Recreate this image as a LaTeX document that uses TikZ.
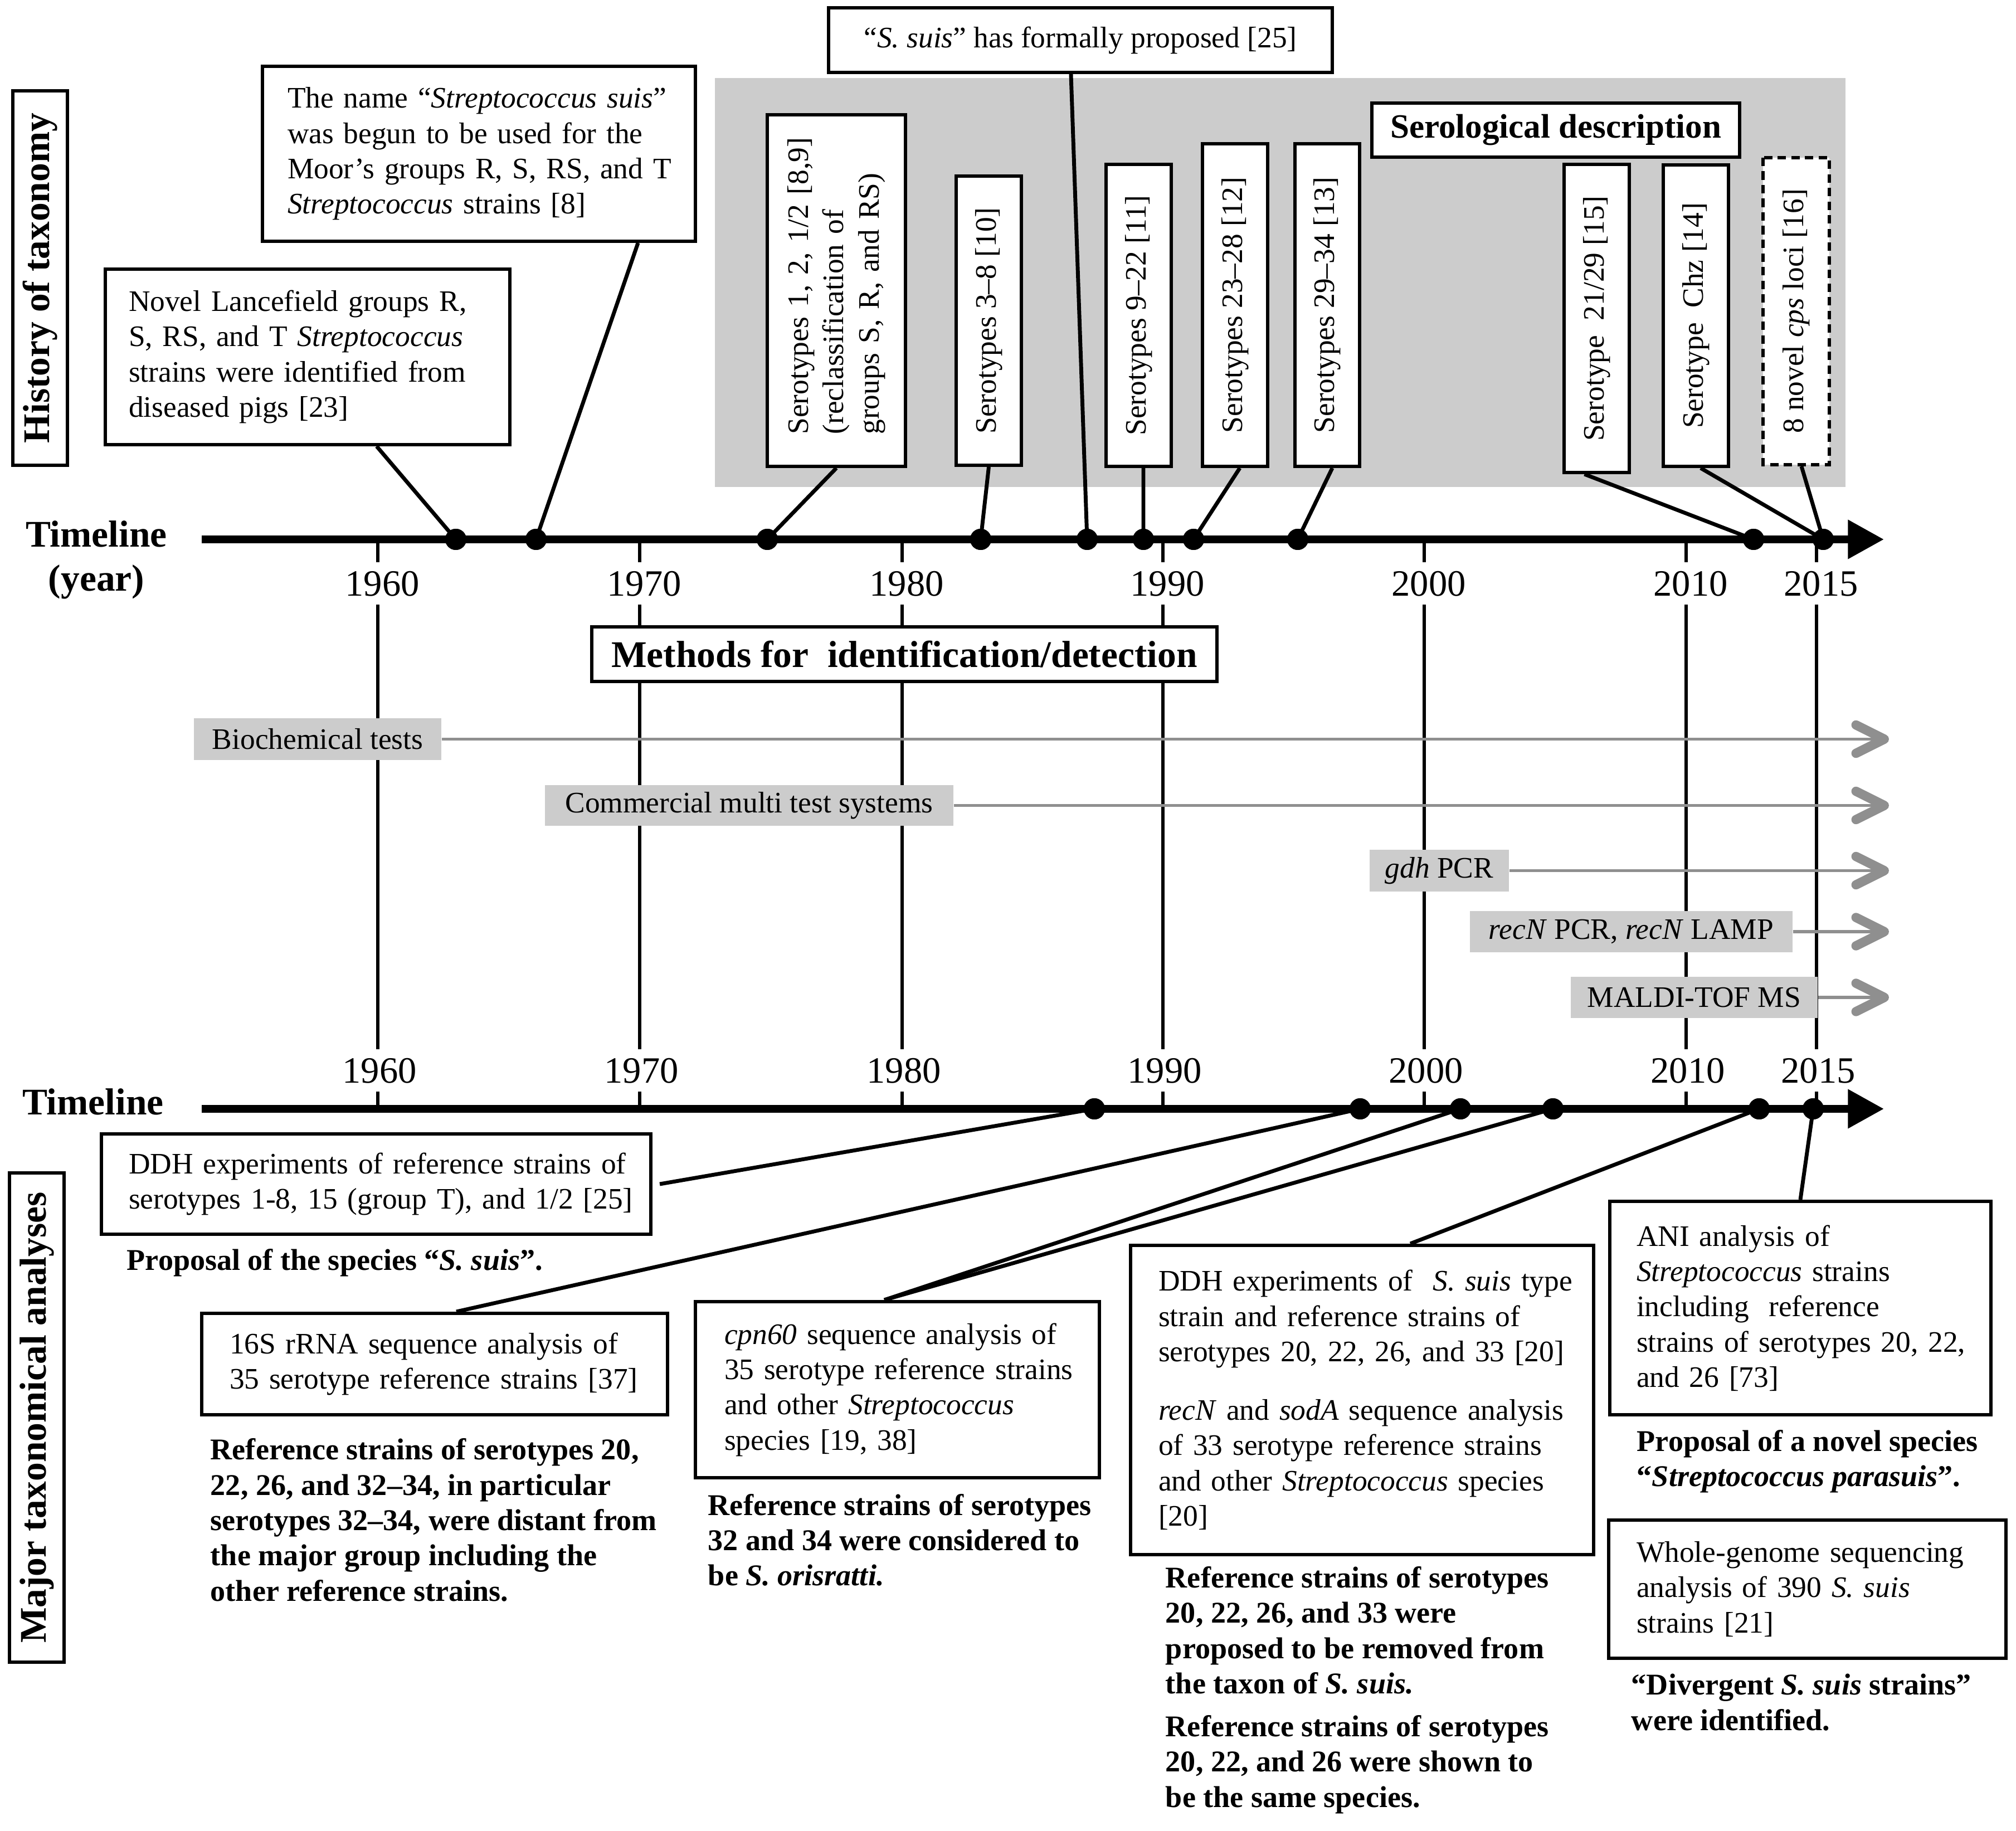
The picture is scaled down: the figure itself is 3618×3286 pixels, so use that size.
\documentclass[tikz,border=0pt]{standalone}
\usepackage{fontspec}
\setmainfont{Liberation Serif}
\usetikzlibrary{arrows.meta,calc}
\def\U{0.2163pt}
\newlength\UL \setlength\UL{0.2163pt}
\definecolor{graybox}{RGB}{204,204,204}
\definecolor{grayarr}{RGB}{143,143,143}
\newcommand\mybody{\fontsize{11.55pt}{13.7pt}\selectfont}
\newcommand\mybold{\fontsize{11.7pt}{13.7pt}\selectfont\bfseries}
\newcommand\myyear{\fontsize{14.4pt}{16pt}\selectfont}
\newcommand\myhead{\fontsize{14.6pt}{17pt}\selectfont\bfseries}
\newcommand\mysero{\fontsize{13.2pt}{15pt}\selectfont\bfseries}
\newcommand\mline[1]{\mbox{#1}}
\begin{document}
\begin{tikzpicture}[x=0.2163pt, y=-0.2163pt,
  bx/.style={draw, line width=1.3pt, fill=white, inner sep=0pt, font=\mybody},
  grl/.style={fill=graybox, inner sep=0pt, font=\mybody},
  dot/.style={circle, fill=black, inner sep=0pt, minimum size=38*\U},
  conn/.style={line width=1.5pt},
  yl/.style={line width=1.2pt},
  yrl/.style={fill=white, font=\myyear, inner xsep=1pt, inner ysep=3.4pt, text height=9.8pt, text depth=0pt},
  note/.style={font=\mybold, align=left, inner sep=0pt, anchor=west},
  garr/.style={draw=grayarr, line width=1.1pt, -{Straight Barb[length=11pt,width=11pt,line width=3.6pt,round]}},
  tlarr/.style={line width=3pt, -{Triangle[length=14pt,width=14.5pt]}},
  rot/.style={bx, rotate=90}
]
\useasboundingbox (0,0) rectangle (3618,3286);

% gray region
\node[fill=graybox, inner sep=0pt, minimum width=2029*\U, minimum height=734*\U] (grayreg) at (2297.5,507) {};

% vertical year lines
\foreach \x in {678,1148,1619,2087,2556,3026,3260} \draw[yl] (\x,968) -- (\x,1990);
\foreach \x/\yr in {678/1960,1148/1970,1619/1980,2087/1990,2556/2000,3026/2010,3260/2015} {
  \node[yrl] (ty\yr) at (\x+8,1047) {\yr};
  \node[yrl] (by\yr) at (\x+3,1921) {\yr};
}

% side labels
\node[draw, line width=1.3pt, rotate=90, inner sep=0pt, minimum width=672*\U, minimum height=98*\U, font=\myhead] (hist) at (72,499) {History of taxonomy};
\node[draw, line width=1.3pt, rotate=90, inner sep=0pt, minimum width=878*\U, minimum height=98*\U, font=\myhead] (major) at (66,2544) {Major taxonomical analyses};
\node[font=\myhead, align=center, inner sep=0pt] (tl1lab) at (173,1005) {Timeline\\(year)};
\node[font=\myhead, inner sep=0pt] (tl2lab) at (167,1977) {Timeline};

% methods section
\node[bx, font=\myhead, minimum width=1122*\U, minimum height=98*\U] (meth) at (1623,1174) {Methods for\ \ identification/detection};
\coordinate (aend) at (3390,0);
\node[grl, minimum width=444*\U, minimum height=75*\U] (bio) at (570,1326.5) {Biochemical tests};
\node[grl, minimum width=733*\U, minimum height=73*\U] (comm) at (1344.5,1445.5) {Commercial multi test systems};
\node[grl, minimum width=250*\U, minimum height=75*\U] (gdh) at (2583,1562.5) {\textit{gdh} PCR};
\node[grl, minimum width=579*\U, minimum height=74*\U] (recn) at (2927.5,1672) {\textit{recN} PCR, \textit{recN} LAMP};
\node[grl, minimum width=443*\U, minimum height=74*\U] (maldi) at (3040.5,1790) {MALDI-TOF MS};
\foreach \n in {bio,comm,gdh,recn,maldi} \draw[garr] (\n.east) -- (\n.east -| aend);

% top boxes
\node[bx, minimum width=726*\U, minimum height=315*\U, text width=642*\U, align=left] (novel) at (552,640.5)
  {\makebox[642\UL][s]{Novel Lancefield groups R,}\\\makebox[642\UL][s]{S, RS, and T \textit{Streptococcus}}\\\makebox[642\UL][s]{strains were identified from}\\\mline{diseased pigs [23]}};
\node[bx, minimum width=777*\U, minimum height=314*\U, text width=687*\U, align=left] (name) at (859.5,276)
  {\makebox[687\UL][s]{The name “\textit{Streptococcus suis}”}\\\makebox[687\UL][s]{was begun to be used for the}\\\makebox[687\UL][s]{Moor’s groups R, S, RS, and T}\\\mline{\textit{Streptococcus} strains [8]}};
\node[bx, minimum width=904*\U, minimum height=116*\U] (formal) at (1939,72) {“\textit{S. suis}” has formally proposed [25]};
\node[bx, font=\mysero, minimum width=660*\U, minimum height=97*\U] (sero) at (2792,233.5) {Serological description};

\node[rot, minimum width=631*\U, minimum height=248*\U, text width=516*\U, align=left] (sa) at (1501,521.5)
  {\mline{Serotypes 1, 2, 1/2 [8,9]}\\\mline{(reclassification of}\\\mline{groups S, R, and RS)}};
\node[rot, minimum width=519*\U, minimum height=117*\U] (sb) at (1774.5,575.5) {Serotypes 3–8 [10]};
\node[rot, minimum width=542*\U, minimum height=117*\U] (sc) at (2043.5,566) {Serotypes 9–22 [11]};
\node[rot, minimum width=579*\U, minimum height=117*\U] (sd) at (2216.5,547.5) {Serotypes 23–28 [12]};
\node[rot, minimum width=579*\U, minimum height=116*\U] (se) at (2382,547.5) {Serotypes 29–34 [13]};
\node[rot, minimum width=553*\U, minimum height=117*\U] (sf) at (2865.5,571.5) {Serotype\ \ 21/29 [15]};
\node[rot, minimum width=541*\U, minimum height=117*\U] (sg) at (3043.5,566.5) {Serotype\ \ Chz [14]};
\node[rot, dash pattern=on 3.3pt off 2pt, minimum width=551*\U, minimum height=119*\U] (sh) at (3223.5,558.5) {8 novel \textit{cps} loci [16]};

% bottom boxes
\node[bx, minimum width=986*\U, minimum height=180*\U, text width=888*\U, align=left] (ddha) at (675,2125)
  {\mline{DDH experiments of reference strains of}\\\mline{serotypes 1-8, 15 (group T), and 1/2 [25]}};
\node[note] (pa) at (227,2266) {Proposal of the species “\textit{S. suis}”.};
\node[bx, minimum width=836*\U, minimum height=182*\U, text width=736*\U, align=left] (ssu) at (780,2448)
  {\mline{16S rRNA sequence analysis of}\\\mline{35 serotype reference strains [37]}};
\node[note] (pb) at (377,2728) {Reference strains of serotypes 20,\\22, 26, and 32–34, in particular\\serotypes 32–34, were distant from\\the major group including the\\other reference strains.};
\node[bx, minimum width=725*\U, minimum height=316*\U, text width=621*\U, align=left] (cpn) at (1610.5,2494)
  {\mline{\textit{cpn60} sequence analysis of}\\\mline{35 serotype reference strains}\\\mline{and other \textit{Streptococcus}}\\\mline{species [19, 38]}};
\node[note] (pc) at (1270,2764) {Reference strains of serotypes\\32 and 34 were considered to\\be \textit{S. orisratti.}};
\node[bx, minimum width=831*\U, minimum height=555*\U, text width=731*\U, align=left] (ddhb) at (2444.5,2512.5)
  {\mline{DDH experiments of\ \ \textit{S. suis} type}\\\mline{strain and reference strains of}\\\mline{serotypes 20, 22, 26, and 33 [20]}\\[9pt]\mline{\textit{recN} and \textit{sodA} sequence analysis}\\\mline{of 33 serotype reference strains}\\\mline{and other \textit{Streptococcus} species}\\\mline{[20]}};
\node[note] (pd) at (2091,3033) {Reference strains of serotypes\\20, 22, 26, and 33 were\\proposed to be removed from\\the taxon of \textit{S. suis.}\\[3pt]Reference strains of serotypes\\20, 22, and 26 were shown to\\be the same species.};
\node[bx, minimum width=684*\U, minimum height=383*\U, text width=588*\U, align=left] (ani) at (3231,2347.5)
  {\mline{ANI analysis of}\\\mline{\textit{Streptococcus} strains}\\\mline{including\ \ reference}\\\mline{strains of serotypes 20, 22,}\\\mline{and 26 [73]}};
\node[note] (pe) at (2937,2622.5) {Proposal of a novel species\\“\textit{Streptococcus parasuis}”.};
\node[bx, minimum width=713*\U, minimum height=248*\U, text width=613*\U, align=left] (wgs) at (3243.5,2852)
  {\mline{Whole-genome sequencing}\\\mline{analysis of 390 \textit{S. suis}}\\\mline{strains [21]}};
\node[note] (pf) at (2927,3055) {“Divergent \textit{S. suis} strains”\\were identified.};

% timelines
\coordinate (tas) at (362,968); \coordinate (tae) at (3381,968);
\coordinate (tbs) at (362,1990); \coordinate (tbe) at (3381,1990);
\draw[tlarr] (tas) -- (tae);
\draw[tlarr] (tbs) -- (tbe);

% dots
\foreach \i/\x in {1/818,2/962,3/1377,4/1760,5/1951,6/2052,7/2142,8/2329,9/3147,10/3272}
  \node[dot] (d\i) at (\x,968) {};
\foreach \i/\x in {1/1964,2/2441,3/2621,4/2787,5/3157,6/3254}
  \node[dot] (e\i) at (\x,1990) {};

% connectors (top)
\draw[conn] ($(novel.south west)+(490,0)$) -- (d1.center);
\draw[conn] ($(name.south west)+(677,0)$) -- (d2.center);
\draw[conn] ($(formal.south west)+(438,0)$) -- (d5.center);
\draw[conn] (sa.west) -- (d3.center);
\draw[conn] (sb.west) -- (d4.center);
\draw[conn] ($(sc.west)+(8.5,0)$) -- (d6.center);
\draw[conn] ($(sd.west)+(8.5,0)$) -- (d7.center);
\draw[conn] ($(se.west)+(9,0)$) -- (d8.center);
\draw[conn] ($(sf.west)+(-22,0)$) -- (d9.center);
\draw[conn] ($(sg.west)+(8.5,0)$) -- (d10.center);
\draw[conn] ($(sh.west)+(9.5,0)$) -- (d10.center);
% connectors (bottom)
\draw[conn] ($(ddha.east)+(13,0)$) -- (e1.center);
\draw[conn] ($(ssu.north)+(39,0)$) -- (e2.center);
\draw[conn] ($(cpn.north)+(-23.5,0)$) -- (e3.center);
\draw[conn] ($(cpn.north)+(-23.5,0)$) -- (e4.center);
\draw[conn] ($(ddhb.north)+(86.5,0)$) -- (e5.center);
\draw[conn] (ani.north) -- (e6.center);
% dots on top of connector ends
\foreach \i in {1,...,10} \fill (d\i) circle[radius=19];
\foreach \i in {1,...,6} \fill (e\i) circle[radius=19];
\end{tikzpicture}
\end{document}
